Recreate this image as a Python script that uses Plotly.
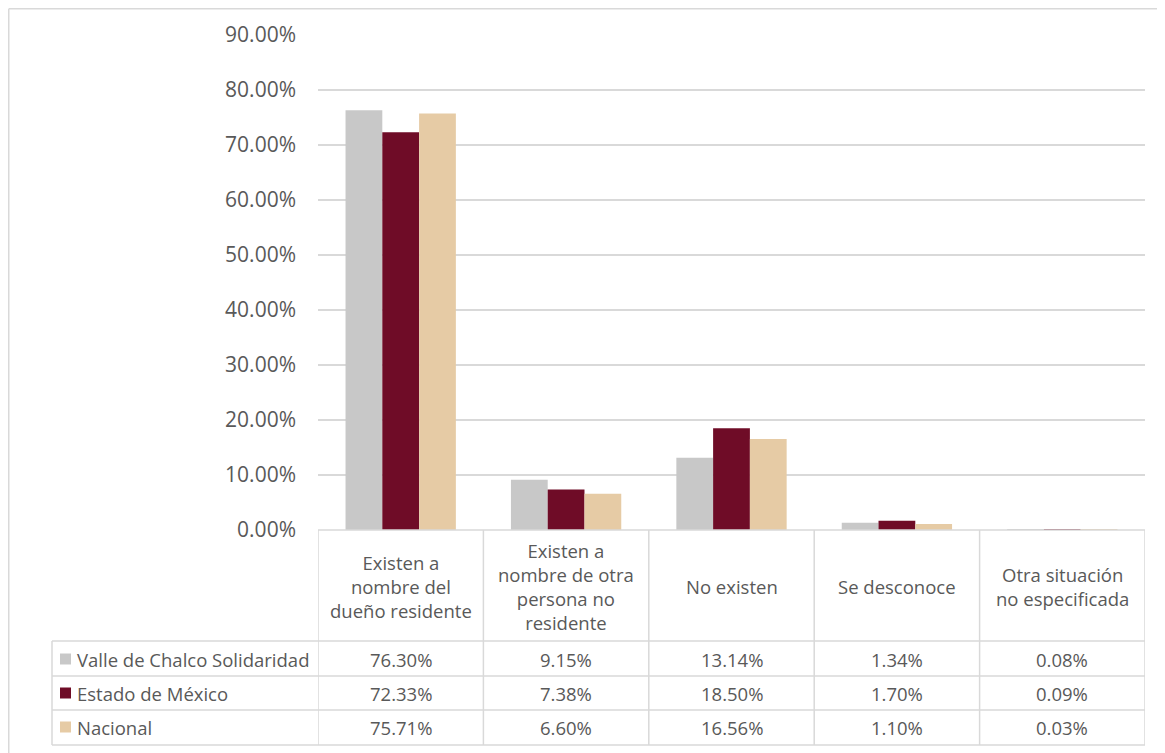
import plotly.graph_objects as go

categories = ["Existen a<br>nombre del<br>dueño residente",
              "Existen a<br>nombre de otra<br>persona no<br>residente",
              "No existen",
              "Se desconoce",
              "Otra situación<br>no especificada"]
series_names = ["Valle de Chalco Solidaridad", "Estado de México", "Nacional"]
valle = [76.30, 9.15, 13.14, 1.34, 0.08]
estado = [72.33, 7.38, 18.50, 1.70, 0.09]
nacional = [75.71, 6.60, 16.56, 1.10, 0.03]
colors = ["#C8C8C8", "#6F0C27", "#E6CBA5"]
y_ticks = [0, 10, 20, 30, 40, 50, 60, 70, 80, 90]

series = [valle, estado, nacional]

OFF = 8  # page body margin
W, H = 1165 - OFF, 753 - OFF
L, R, T, B = 318, 1145, 35, 530  # screen coordinates of plot area
FONT = "Open Sans, Lato, sans-serif"
TXT = "#595959"
LINE = "#D9D9D9"
TSIZE = 18.5


def px(xp):
    return (xp - L) / (R - L)


def py(yp):
    return (B - yp) / (B - T)


xs = list(range(len(categories)))
fig = go.Figure()
for name, vals, c in zip(series_names, series, colors):
    fig.add_trace(go.Bar(x=xs, y=[v / 100 for v in vals], name=name,
                         marker=dict(color=c, line=dict(width=0)),
                         hoverinfo="skip"))

shapes = []
annotations = []

# outer border (top and left)
shapes.append(dict(type="line", xref="paper", yref="paper", x0=px(OFF + 0.75), x1=px(1200),
                   y0=py(OFF + 0.75), y1=py(OFF + 0.75), line=dict(color=LINE, width=1.5)))
shapes.append(dict(type="line", xref="paper", yref="paper", x0=px(OFF + 0.75), x1=px(OFF + 0.75),
                   y0=py(OFF + 0.75), y1=py(800), line=dict(color=LINE, width=1.5)))

# table rows
row_lines = [530, 641, 676, 710, 745]
for i, yl in enumerate(row_lines):
    x0 = L if i == 0 else 52
    shapes.append(dict(type="line", xref="paper", yref="paper", x0=px(x0), x1=px(R), y0=py(yl), y1=py(yl),
                       line=dict(color=LINE, width=1.5)))
# vertical lines
for k in range(len(categories) + 1):
    shapes.append(dict(type="line", xref="x", yref="paper", x0=k - 0.5, x1=k - 0.5, y0=py(530), y1=py(745),
                       line=dict(color=LINE, width=1.5)))
shapes.append(dict(type="line", xref="paper", yref="paper", x0=px(52), x1=px(52), y0=py(641), y1=py(745),
                   line=dict(color=LINE, width=1.5)))

# header labels
for k, cat in enumerate(categories):
    annotations.append(dict(x=k, y=py(586), xref="x", yref="paper", text=cat, showarrow=False,
                            xanchor="center", yanchor="middle", align="center",
                            font=dict(family=FONT, size=TSIZE, color=TXT)))

# data rows
row_centers = [659, 693, 727]
for r, (name, vals, c) in enumerate(zip(series_names, series, colors)):
    yc = row_centers[r]
    shapes.append(dict(type="rect", xref="paper", yref="paper", x0=px(60), x1=px(71),
                       y0=py(yc - 5.5), y1=py(yc + 5.5), fillcolor=c, line=dict(width=0)))
    annotations.append(dict(x=px(75), y=py(yc), xref="paper", yref="paper", text=name, showarrow=False,
                            xanchor="left", yanchor="middle",
                            font=dict(family=FONT, size=TSIZE, color=TXT)))
    for k, v in enumerate(vals):
        annotations.append(dict(x=k, y=py(yc), xref="x", yref="paper", text=f"{v:.2f}%", showarrow=False,
                                xanchor="center", yanchor="middle",
                                font=dict(family=FONT, size=TSIZE, color=TXT)))

fig.update_layout(
    width=W, height=H,
    margin=dict(l=L - OFF, r=W - (R - OFF), t=T - OFF, b=H - (B - OFF), pad=0),
    paper_bgcolor="white", plot_bgcolor="white",
    barmode="group", bargap=0.333, bargroupgap=0,
    showlegend=False,
    shapes=shapes, annotations=annotations,
    xaxis=dict(range=[-0.5, len(categories) - 0.5], showticklabels=False, showgrid=False,
               zeroline=False, showline=False, ticks=""),
    yaxis=dict(range=[0, 0.9], tickvals=[v / 100 for v in y_ticks], tickformat=".2%",
               showgrid=True, gridcolor=LINE, gridwidth=1.5, zeroline=False, showline=False,
               ticks="", ticklabelstandoff=21,
               tickfont=dict(family=FONT, size=21, color=TXT)),
)

fig.write_html("out.html")
